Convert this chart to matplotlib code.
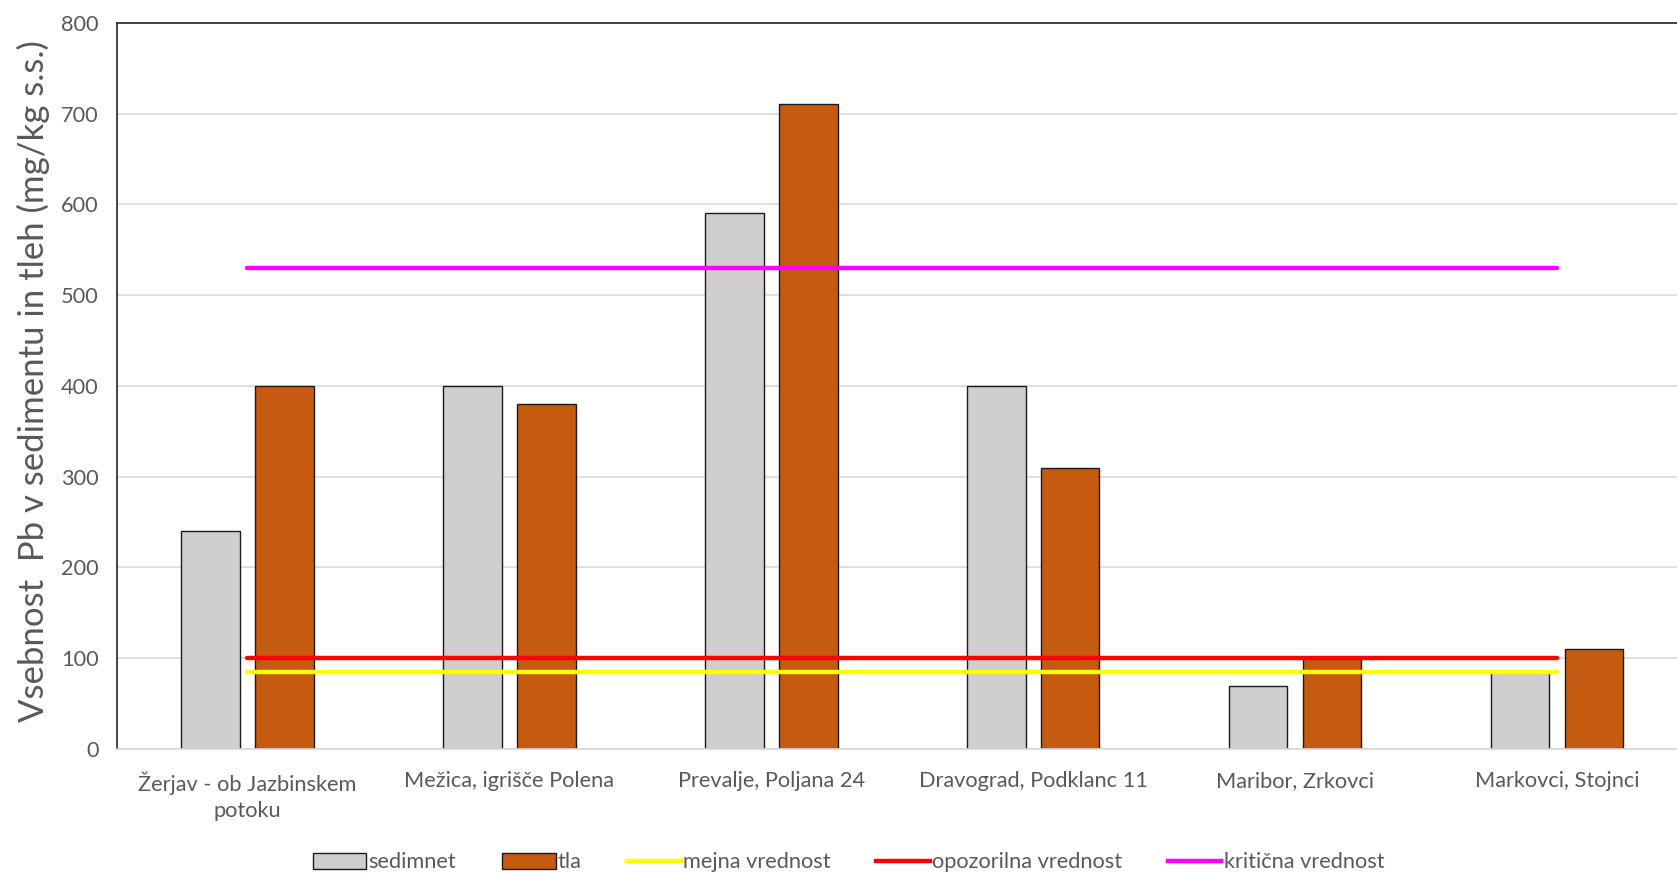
import matplotlib
matplotlib.use("Agg")
import matplotlib.pyplot as plt
import numpy as np
from matplotlib.patches import Patch
from matplotlib.lines import Line2D

categories = ["Žerjav - ob Jazbinskem\npotoku", "Mežica, igrišče Polena", "Prevalje, Poljana 24",
              "Dravograd, Podklanc 11", "Maribor, Zrkovci", "Markovci, Stojnci"]
sedimnet = [240, 400, 590, 400, 69, 85]
tla = [400, 380, 710, 310, 100, 110]
mejna = [85, 85, 85, 85, 85, 85]
opozorilna = [100, 100, 100, 100, 100, 100]
kriticna = [530, 530, 530, 530, 530, 530]
yticks = [0, 100, 200, 300, 400, 500, 600, 700, 800]

plt.rcParams['font.family'] = ['Lato', 'DejaVu Sans']
txt = '#595959'
fs = 15.7

fig = plt.figure(figsize=(16.77, 8.75), dpi=100)
ax = fig.add_axes([0.0695, 0.144, 0.937, 0.830])

x = np.arange(len(categories))
w = 0.224
off = 0.141
ax.bar(x - off, sedimnet, w, color='#D0CECE', edgecolor='#1a1a1a', linewidth=1.0, zorder=2)
ax.bar(x + off, tla, w, color='#C55A11', edgecolor='#1a1a1a', linewidth=1.0, zorder=2)
ax.plot(x, mejna, color='#FFFF00', lw=3.2, solid_capstyle='round', zorder=3)
ax.plot(x, opozorilna, color='#FF0000', lw=3.2, solid_capstyle='round', zorder=3)
ax.plot(x, kriticna, color='#FF00FF', lw=3.2, solid_capstyle='round', zorder=3)

ax.set_xlim(-0.5, len(categories) - 0.5)
ax.set_ylim(0, 800)
ax.set_yticks(yticks)
ax.set_xticks(x)
ax.set_xticklabels(categories, fontsize=fs, color=txt, linespacing=1.4)
ax.tick_params(axis='y', length=0, pad=13, labelsize=fs, labelcolor=txt)
ax.tick_params(axis='x', length=0, pad=16)
ax.grid(axis='y', color='#D9D9D9', lw=1.2, zorder=0)
ax.set_axisbelow(True)
for s in ['left', 'top']:
    ax.spines[s].set_color('#262626')
    ax.spines[s].set_linewidth(1.2)
ax.spines['right'].set_visible(False)
ax.spines['bottom'].set_color('#D9D9D9')
ax.spines['bottom'].set_linewidth(1.2)

ax.set_ylabel("Vsebnost  Pb v sedimentu in tleh (mg/kg s.s.)", fontsize=25, color=txt, labelpad=8)
ax.yaxis.label.set_y(0.507)

handles = [Patch(facecolor='#D0CECE', edgecolor='#1a1a1a', lw=1.0),
           Patch(facecolor='#C55A11', edgecolor='#1a1a1a', lw=1.0),
           Line2D([], [], color='#FFFF00', lw=3.2),
           Line2D([], [], color='#FF0000', lw=3.2),
           Line2D([], [], color='#FF00FF', lw=3.2)]
labels = ['sedimnet', 'tla', 'mejna vrednost', 'opozorilna vrednost', 'kritična vrednost']
leg = fig.legend(handles, labels, loc='center', bbox_to_anchor=(0.506, 0.0145), ncol=5, frameon=False,
                 fontsize=fs, handlelength=2.45, handleheight=0.75, columnspacing=2.1, handletextpad=0.1)
for t in leg.get_texts():
    t.set_color(txt)

fig.savefig('out.png', dpi=100)
